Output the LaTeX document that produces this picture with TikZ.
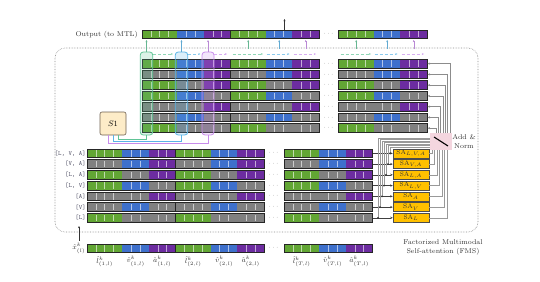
\documentclass[tikz,border=0pt]{standalone}
\usetikzlibrary{arrows.meta,calc}
\definecolor{cG}{RGB}{98,166,52}
\definecolor{cB}{RGB}{62,112,204}
\definecolor{cP}{RGB}{108,44,160}
\definecolor{cX}{RGB}{128,128,128}
\definecolor{hG}{RGB}{96,196,150}
\definecolor{hB}{RGB}{90,180,230}
\definecolor{hP}{RGB}{200,140,235}
\definecolor{saY}{RGB}{255,192,0}
\definecolor{sonefill}{RGB}{253,236,200}
\definecolor{sonedraw}{RGB}{110,95,80}
\definecolor{anPink}{RGB}{240,200,212}
\definecolor{lblGray}{RGB}{90,90,110}

\newcommand{\fmsblock}[6]{%
  \fill[#4] (#1,#2) rectangle ({#1+4*8.85},{#2+#3});
  \fill[#5] ({#1+4*8.85},#2) rectangle ({#1+7*8.85},{#2+#3});
  \fill[#6] ({#1+7*8.85},#2) rectangle ({#1+10*8.85},{#2+#3});
  \foreach \k in {1,2,3,5,6,8,9}{
    \draw[white, opacity=0.6, line width=0.6pt] ({#1+\k*8.85},{#2+1}) -- ({#1+\k*8.85},{#2+#3-1});
  }
  \draw[black!85, line width=0.7pt] (#1,#2) rectangle ({#1+10*8.85},{#2+#3});
}

\tikzset{
 txt/.style={font=\fontsize{7}{8.5}\selectfont, text=black!80, inner sep=0pt},
 lbl/.style={font=\fontsize{6.5}{7}\selectfont\ttfamily, text=lblGray, inner sep=0pt, anchor=east},
 dotsn/.style={font=\fontsize{7}{7}\selectfont, text=black!45, inner sep=0pt},
 sabox/.style={draw=black!70, fill=saY, line width=0.5pt, minimum width=36pt, minimum height=9pt, inner sep=0pt, font=\fontsize{6.5}{7}\selectfont, text=black!80},
 hbox/.style={rounded corners=3pt, line width=0.8pt, fill opacity=0.22, draw opacity=1, minimum width=12.5pt, minimum height=83pt, inner sep=0pt},
 upar/.style={-{Stealth[length=2.2pt,width=2pt]}, line width=0.4pt},
 dsar/.style={densely dashed, -{Stealth[length=2.2pt,width=2pt]}, line width=0.35pt},
 conn/.style={black!75, line width=0.4pt, -{Stealth[length=2.5pt,width=2.2pt]}},
 gline/.style={black!40, line width=0.5pt},
}

\begin{document}
\begin{tikzpicture}[x=1pt,y=-1pt]
\useasboundingbox (0,0) rectangle (540,281);

% big dotted FMS frame
\draw[black!45, densely dotted, line width=0.6pt, rounded corners=10pt] (55,48) rectangle (478,232);

% output bar
\fmsblock{142}{30}{8}{cG}{cB}{cP}
\fmsblock{230.5}{30}{8}{cG}{cB}{cP}
\fmsblock{338.5}{30}{8}{cG}{cB}{cP}
\node[dotsn] (od) at (328.5,34) {$\cdots$};
\node[txt, anchor=east] (outl) at (138,34.5) {Output (to MTL)};
\coordinate (oa1) at (284.5,30);
\coordinate (oa2) at (284.5,19);
\draw[upar, black!80] (oa1) -- (oa2);
\coordinate (obb) at (0,40);

% upper rows
\foreach \r/\a/\b/\c in {1/cG/cB/cP,2/cX/cB/cP,3/cG/cX/cP,4/cG/cB/cX,5/cX/cX/cP,6/cX/cB/cX,7/cG/cX/cX}{
  \pgfmathsetmacro{\yt}{59.3+(\r-1)*10.75}
  \fmsblock{142}{\yt}{8.7}{\a}{\b}{\c}
  \fmsblock{230.5}{\yt}{8.7}{\a}{\b}{\c}
  \fmsblock{338.5}{\yt}{8.7}{\a}{\b}{\c}
  \node[dotsn] (ud\r) at (328.5,{\yt+4.35}) {$\cdots$};
  \coordinate (ue\r) at (427.6,{\yt+4.35});
  \coordinate (ui\r) at ({450-2.33*(\r-1)},133);
}

% highlight columns
\node[hbox, draw=hG, fill=hG] (hg) at (146.5,93.5) {};
\node[hbox, draw=hB, fill=hB] (hb) at (181.5,93.5) {};
\node[hbox, draw=hP, fill=hP, minimum width=12pt] (hp) at (208,93.5) {};

% up arrows to output
\draw[upar, hG!80!gray] (hg.north) -- (hg.north |- obb);
\draw[upar, hB!80!gray] (hb.north) -- (hb.north |- obb);
\draw[upar, hP!80!gray] (hp.north) -- (hp.north |- obb);
\foreach \x/\cl [count=\n] in {248.2/hG,279.2/hB,305.7/hP,356.2/hG,387.2/hB,413.7/hP}{
  \coordinate (ua\n) at (\x,49);
  \coordinate (ub\n) at (\x,40);
  \draw[upar, \cl!80!gray] (ua\n) -- (ub\n);
}

% dashed sliding arrows
\coordinate (dy) at (0,54);
\coordinate (dg1) at (173,54);
\coordinate (db1) at (200.5,54);
\coordinate (dp1) at (227,54);
\draw[dsar, hG!70!white] (hg.east |- dy) -- (dg1);
\draw[dsar, hB!70!white] (hb.east |- dy) -- (db1);
\draw[dsar, hP!70!white] (hp.east |- dy) -- (dp1);
\foreach \xa/\xb/\cl [count=\n] in {232.5/263/hG,266.5/289.5/hB,293.5/316/hP,340.5/371/hG,374.5/397.5/hB,401.5/424/hP}{
  \coordinate (dsa\n) at (\xa,54);
  \coordinate (dsb\n) at (\xb,54);
  \draw[dsar, \cl!70!white] (dsa\n) -- (dsb\n);
}

% S1
\node[draw=sonedraw, fill=sonefill, rounded corners=2pt, minimum width=26pt, minimum height=23pt, line width=0.6pt, font=\fontsize{8}{8}\selectfont] (s1) at (113,123.5) {$S1$};
\draw[hP, line width=0.6pt] ($(s1.south)+(-5,0)$) -- ++(0,7.5) -| (hp.south);
\draw[hB, line width=0.6pt] (s1.south) -- ++(0,5.5) -| (hb.south);
\draw[hG, line width=0.6pt] ($(s1.south)+(5,0)$) -- ++(0,3.5) -| (hg.south);

% lower rows
\foreach \r/\a/\b/\c/\t/\s in {1/cG/cB/cP/{[L, V, A]}/{L,V,A},2/cX/cB/cP/{[V, A]}/{V,A},3/cG/cX/cP/{[L, A]}/{L,A},4/cG/cB/cX/{[L, V]}/{L,V},5/cX/cX/cP/{[A]}/{A},6/cX/cB/cX/{[V]}/{V},7/cG/cX/cX/{[L]}/{L}}{
  \pgfmathsetmacro{\yt}{149+(\r-1)*10.75}
  \fmsblock{87}{\yt}{8.7}{\a}{\b}{\c}
  \fmsblock{175.5}{\yt}{8.7}{\a}{\b}{\c}
  \fmsblock{284}{\yt}{8.7}{\a}{\b}{\c}
  \node[dotsn] (ld\r) at (273.5,{\yt+4.35}) {$\cdots$};
  \node[lbl] (lab\r) at (86,{\yt+4.35}) {\t};
  \node[sabox] (sa\r) at (411,{\yt+4.35}) {SA$_{\scriptscriptstyle \s}$};
  \coordinate (le\r) at (373.3,{\yt+4.35});
  \coordinate (br\r) at ({390-2*(\r-1)},{\yt+4.35});
  \coordinate (rt\r) at (430,{147-1.5*(\r-1)});
  \coordinate (so\r) at ({432+2.5*(\r-1)},150);
}

% Add & Norm
\node[fill=anPink, fill opacity=0.75, minimum width=22pt, minimum height=17pt, inner sep=0pt] (an) at (441,141.5) {};
\node[txt, align=center, font=\fontsize{7}{8.8}\selectfont] (antext) at (464,141.5) {Add \&\\Norm};

\foreach \r in {1,...,7}{
  \draw[gline] (br\r) |- (rt\r);
  \draw[gline] (sa\r.east) -| (so\r);
  \draw[gline, -{Stealth[length=2.5pt,width=2.2pt]}, draw=black!45] (ui\r) |- (ue\r);
  \draw[conn] (le\r) -- (sa\r.west);
  \fill[black!80] (br\r) circle (1);
}
\draw[black, line width=1.1pt] ($(an.center)+(-7,-4.5)$) -- ($(an.center)+(7,4.5)$);

% input bar
\fmsblock{87}{244}{8.7}{cG}{cB}{cP}
\fmsblock{175.5}{244}{8.7}{cG}{cB}{cP}
\fmsblock{284}{244}{8.7}{cG}{cB}{cP}
\node[dotsn] (idots) at (273.5,248.35) {$\cdots$};
\node[txt, anchor=east, font=\fontsize{7.5}{8}\selectfont] (xin) at (85.5,248.5) {$\hat{x}^{k}_{(l)}$};
\coordinate (ia1) at (79,240.5);
\coordinate (ia2) at (79,226);
\draw[upar, black!80] (ia1) -- (ia2);

\foreach \x/\m in {87/1,175.5/2,284/T}{
  \node[txt] (ll\m) at ({\x+17.7},261.5) {$\hat{l}^{k}_{(\m,l)}$};
  \node[txt] (lv\m) at ({\x+48.7},261.5) {$\hat{v}^{k}_{(\m,l)}$};
  \node[txt] (la\m) at ({\x+75.2},261.5) {$\hat{a}^{k}_{(\m,l)}$};
}

\node[txt, align=center, font=\fontsize{7}{9}\selectfont] (fms) at (443,247.5) {Factorized Multimodal\\Self-attention (FMS)};
\end{tikzpicture}
\end{document}
